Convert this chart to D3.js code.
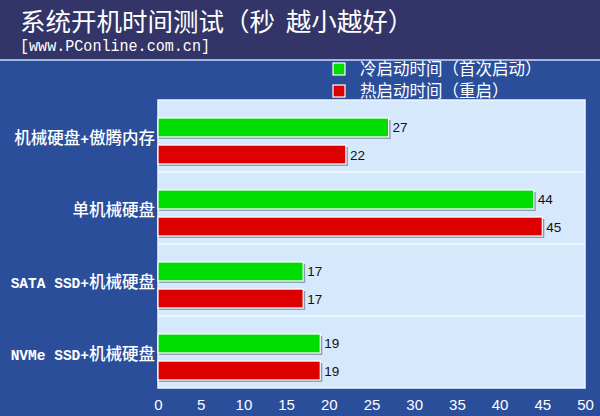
<!DOCTYPE html>
<html><head><meta charset="utf-8">
<script src="https://cdn.jsdelivr.net/npm/d3@7"></script>
<style>html,body{margin:0;padding:0;background:#2b4e9b;}svg{display:block;}</style>
</head><body>
<script>
const categories = ["机械硬盘+傲腾内存", "单机械硬盘", "SATA SSD+机械硬盘", "NVMe SSD+机械硬盘"];
const seriesNames = ["冷启动时间（首次启动）", "热启动时间（重启）"];
const coldValues = [27, 44, 17, 19];
const hotValues = [22, 45, 17, 19];
const xTicks = [0, 5, 10, 15, 20, 25, 30, 35, 40, 45, 50];
const seriesColors = ["#00dd00", "#dd0000"];
const titleText = "系统开机时间测试（秒 越小越好）";
const subtitleText = "[www.PConline.com.cn]";

const W = 600, H = 416;
const svg = d3.select("body").append("svg").attr("width", W).attr("height", H);
const cjk = "'Noto Sans CJK SC', 'Noto Sans', sans-serif";
const mono = "'Liberation Mono', 'DejaVu Sans Mono', monospace";

svg.append("rect").attr("width", W).attr("height", H).attr("fill", "#2b4e9b");
svg.append("rect").attr("width", W).attr("height", 59).attr("fill", "#333467");
svg.append("rect").attr("y", 59).attr("width", W).attr("height", 2).attr("fill", "#9fb7e3");

svg.append("text").attr("x", 20).attr("y", 31).text(titleText)
  .attr("fill", "#fff").attr("font-family", cjk).attr("font-size", 25.5)
  .attr("word-spacing", 5).style("white-space", "pre");
svg.append("text").attr("x", 20).attr("y", 51).text(subtitleText)
  .attr("fill", "#fff").attr("font-family", mono).attr("font-size", 16)
  .attr("textLength", 190).attr("lengthAdjust", "spacingAndGlyphs");

// legend
const leg = svg.append("g");
seriesNames.forEach((n, i) => {
  const y = 63 + i * 22;
  leg.append("rect").attr("x", 333).attr("y", y).attr("width", 12).attr("height", 12)
    .attr("fill", seriesColors[i]).attr("stroke", "#fff").attr("stroke-width", 1.2);
  leg.append("text").attr("x", 360).attr("y", y + 12).text(n)
    .attr("fill", "#fff").attr("font-family", cjk).attr("font-size", 16.5);
});

const x0 = 158, x1 = 585, yTop = 100, yBot = 388;
const x = d3.scaleLinear().domain([0, 50]).range([x0, x1]);
const y = d3.scaleBand().domain(categories).range([yTop, yBot]);
const inner = d3.scaleBand().domain([0, 1]).range([18, 64]).paddingInner(0.3);

svg.append("rect").attr("x", x0).attr("y", yTop).attr("width", x1 - x0).attr("height", yBot - yTop)
  .attr("fill", "#d6e9fc").attr("stroke", "#eef5ff").attr("stroke-width", 1.5);

// separators
svg.append("g").selectAll("line").data(categories.slice(1)).join("line")
  .attr("x1", x0).attr("x2", x1).attr("y1", d => y(d)).attr("y2", d => y(d))
  .attr("stroke", "#f2f8ff").attr("stroke-width", 1.5);

const rows = [];
categories.forEach((c, i) => {
  rows.push({c, s: 0, v: coldValues[i]});
  rows.push({c, s: 1, v: hotValues[i]});
});

const g = svg.append("g");
g.selectAll("rect.sh").data(rows).join("rect").attr("class", "sh")
  .attr("x", x(0) + 1).attr("y", d => y(d.c) + inner(d.s) + 2)
  .attr("width", d => x(d.v) - x(0) + 1).attr("height", inner.bandwidth())
  .attr("fill", "#8a9bb3");
g.selectAll("rect.bar").data(rows).join("rect").attr("class", "bar")
  .attr("x", x(0)).attr("y", d => y(d.c) + inner(d.s))
  .attr("width", d => x(d.v) - x(0)).attr("height", inner.bandwidth())
  .attr("fill", d => seriesColors[d.s]).attr("stroke", "#fff").attr("stroke-width", 1.2);
g.selectAll("text.val").data(rows).join("text").attr("class", "val")
  .attr("x", d => x(d.v) + 4).attr("y", d => y(d.c) + inner(d.s) + inner.bandwidth() / 2 + 5)
  .text(d => d.v).attr("fill", "#111").attr("font-family", "Arial, 'Liberation Sans', sans-serif")
  .attr("font-size", 13.5);

// category labels: ASCII runs in half-width mono, CJK runs in CJK font
const labels = svg.append("g").selectAll("text").data(categories).join("text")
  .attr("x", 155).attr("y", d => y(d) + 38 + 6)
  .attr("text-anchor", "end").attr("fill", "#fff").style("white-space", "pre");
labels.each(function(d) {
  const runs = d.match(/[\x00-\x7f]+|[^\x00-\x7f]+/g);
  const t = d3.select(this);
  runs.forEach(r => {
    const ascii = /^[\x00-\x7f]+$/.test(r);
    t.append("tspan").text(r)
      .attr("font-family", ascii ? mono : cjk)
      .attr("font-size", ascii ? 14.5 : 16.5)
      .attr("font-weight", ascii ? 700 : 500);
  });
});

// x axis
const ax = svg.append("g").attr("transform", `translate(0,${yBot})`)
  .call(d3.axisBottom(x).tickValues(xTicks).tickSize(0).tickPadding(11));
ax.select(".domain").remove();
ax.selectAll("text").attr("fill", "#fff").attr("font-family", "Arial, 'Liberation Sans', sans-serif")
  .attr("font-size", 15);
</script>
</body></html>
